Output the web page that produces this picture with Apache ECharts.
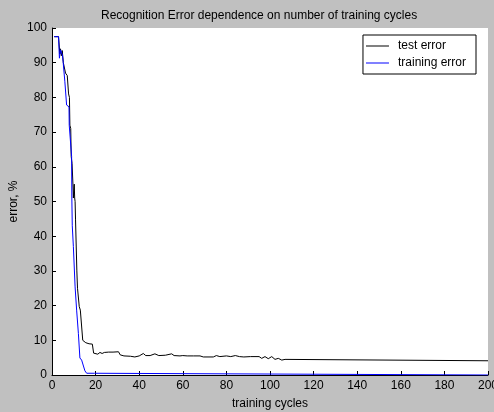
<!DOCTYPE html>
<html>
<head>
<meta charset="utf-8">
<script src="https://cdn.jsdelivr.net/npm/echarts@6/dist/echarts.min.js"></script>
<style>
  html, body { margin: 0; padding: 0; background: #c0c0c0; }
  #chart { width: 494px; height: 412px; }
</style>
</head>
<body>
<div id="chart"></div>
<script>
// training cycle positions and error values
const testX = [1, 3, 3.6, 3.9, 4.3, 4.7, 5.2, 6.2, 7.0, 7.4, 7.6, 8.0, 8.2, 8.6, 8.8, 9.2, 9.6, 9.8, 10.2, 10.4, 10.6, 10.8,
  11.4, 11.7, 12.5, 13.0, 14.1, 15.5, 17, 18.5, 19.1, 20, 21, 22, 23, 24, 26, 28, 30.5, 31.3, 33, 36, 38, 40, 41.9, 43, 45,
  47.2, 49, 52, 54.9, 56, 58.7, 60, 62, 65, 67.9, 69.4, 74, 75.4, 77, 80, 82, 84.1, 86, 88, 91, 95, 96.2, 97.7, 99.2,
  100.8, 102.3, 103.8, 105.4, 106.9, 107.7, 200];
const testY = [97.5, 97.5, 92.5, 94, 92, 93.5, 90, 87, 86.3, 86, 81, 80, 72, 71, 63, 61, 55, 51, 55, 51, 50, 44.7,
  30, 25, 19.7, 18.7, 10, 9.3, 9, 8.9, 6.3, 6.5, 6, 6.5, 6.2, 6.5, 6.6, 6.6, 6.7, 5.8, 5.5, 5.4, 5.2, 5.5, 6.2, 5.6, 5.6,
  6.1, 5.6, 5.7, 6.1, 5.6, 5.5, 5.6, 5.5, 5.5, 5.5, 5.2, 5.2, 5.6, 5.3, 5.5, 5.3, 5.6, 5.3, 5.2, 5.3, 5.3, 4.8, 5.3, 4.7,
  5.3, 4.5, 4.8, 4.3, 4.5, 4.1, 4.1];

const trainX = [1, 3, 3.4, 3.9, 4.8, 5.1, 5.9, 6.7, 7.8, 7.9, 8.6, 9.0, 9.1, 9.3, 9.8, 10.6, 11.3, 12.1, 12.8, 13.6,
  15.1, 15.9, 19.5, 20, 200];
const trainY = [97.5, 97.5, 91.3, 93.7, 92.2, 90.3, 84.5, 77.8, 77.3, 72, 71.5, 63, 51, 43, 37, 25.4, 18.7, 12, 4.9, 4.3,
  1.2, 0.5, 0.5, 0, 0];

const xTicks = { min: 0, max: 200, interval: 20 };
const yTicks = { min: 0, max: 100, interval: 10 };

const font = 'Arial, "Liberation Sans", sans-serif';
const chart = echarts.init(document.getElementById('chart'));

chart.setOption({
  backgroundColor: '#c0c0c0',
  animation: false,
  title: {
    text: 'Recognition Error dependence on number of training cycles',
    left: 96,
    top: 5,
    textStyle: { fontFamily: font, fontSize: 12, fontWeight: 'normal', color: '#000' },
  },
  grid: {
    left: 52, right: 6, top: 28, bottom: 37,
    outerBoundsMode: 'none',
    backgroundColor: '#fff', show: true, borderWidth: 0,
  },
  legend: {
    orient: 'vertical',
    right: 18,
    top: 35,
    padding: [4, 10, 4, 3],
    itemGap: 3,
    icon: 'rect',
    itemWidth: 23,
    itemHeight: 1,
    borderColor: '#000',
    borderWidth: 1,
    backgroundColor: '#fff',
    textStyle: { fontFamily: font, fontSize: 12, color: '#000', padding: [0, 0, 0, 4], lineHeight: 14 },
    data: ['test error', 'training error'],
  },
  xAxis: {
    type: 'value',
    ...xTicks,
    name: 'training cycles',
    nameLocation: 'middle',
    nameGap: 23,
    nameMoveOverlap: false,
    nameTextStyle: { fontFamily: font, fontSize: 12, color: '#000' },
    axisLine: { lineStyle: { color: '#000', width: 1 } },
    axisTick: { inside: true, length: 4, lineStyle: { color: '#000' } },
    axisLabel: { fontFamily: font, fontSize: 12, color: '#000', margin: 5 },
    splitLine: { show: false },
  },
  yAxis: {
    type: 'value',
    ...yTicks,
    name: 'error, %',
    nameLocation: 'middle',
    nameGap: 32,
    nameMoveOverlap: false,
    nameTextStyle: { fontFamily: font, fontSize: 12, color: '#000' },
    axisLine: { show: true, lineStyle: { color: '#000', width: 1 } },
    axisTick: { show: true, inside: true, length: 4, lineStyle: { color: '#000' } },
    axisLabel: { fontFamily: font, fontSize: 12, color: '#000', margin: 5 },
    splitLine: { show: false },
  },
  series: [
    {
      name: 'test error',
      type: 'line',
      symbol: 'none',
      lineStyle: { color: '#000', width: 1 },
      itemStyle: { color: '#000' },
      data: testX.map((x, i) => [x, testY[i]]),
    },
    {
      name: 'training error',
      type: 'line',
      symbol: 'none',
      lineStyle: { color: '#0000ff', width: 1 },
      itemStyle: { color: '#0000ff' },
      data: trainX.map((x, i) => [x, trainY[i]]),
    },
  ],
});
</script>
</body>
</html>
